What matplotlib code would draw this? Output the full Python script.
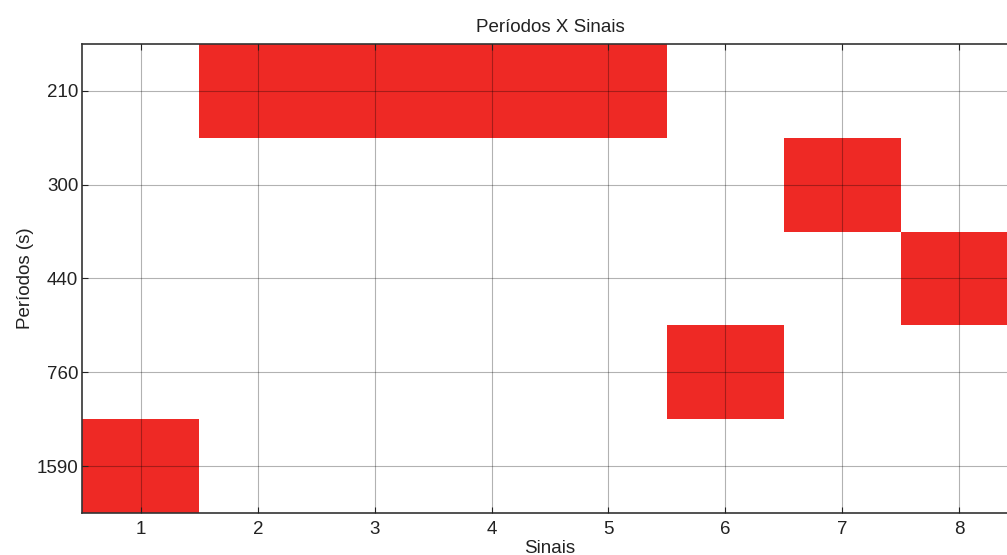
import matplotlib
matplotlib.use("Agg")
import matplotlib.pyplot as plt

# period classes (top to bottom) and which class each signal falls into
periodos = ["210", "300", "440", "760", "1590"]
sinais = [1, 2, 3, 4, 5, 6, 7, 8]
periodo_sinal = ["1590", "210", "210", "210", "210", "760", "300", "440"]

plt.rcParams["font.family"] = ["Liberation Sans", "DejaVu Sans"]
plt.rcParams["font.size"] = 13.5

fig = plt.figure(figsize=(10.07, 5.55), dpi=100)
ax = fig.add_axes([0.0819, 0.0757, 0.9285, 0.845])

rows = [periodos.index(p) + 1 for p in periodo_sinal]
ax.bar(sinais, [1] * len(sinais), bottom=[r - 0.5 for r in rows], width=1.0,
       color="#ee2925", linewidth=0)

ax.set_xlim(0.5, 8.5)
ax.set_ylim(5.5, 0.5)
ax.set_xticks(sinais)
ax.set_yticks(range(1, len(periodos) + 1))
ax.set_yticklabels(periodos)

ax.set_axisbelow(False)
ax.grid(True, color="black", alpha=0.3, linewidth=0.8)
ax.tick_params(direction="in", length=4, width=0.8, top=True, right=True,
               colors="#222222", labelcolor="#222222")
ax.tick_params(axis="x", pad=6)
ax.tick_params(axis="y", pad=3)
for s in ax.spines.values():
    s.set_linewidth(1.2)
    s.set_color("#333333")

ax.set_title("Períodos X Sinais", fontsize=13.5, pad=9, color="#222222")
ax.set_xlabel("Sinais", labelpad=1, color="#222222")
ax.set_ylabel("Períodos (s)", labelpad=2, color="#222222")

fig.savefig("out.png", dpi=100)
